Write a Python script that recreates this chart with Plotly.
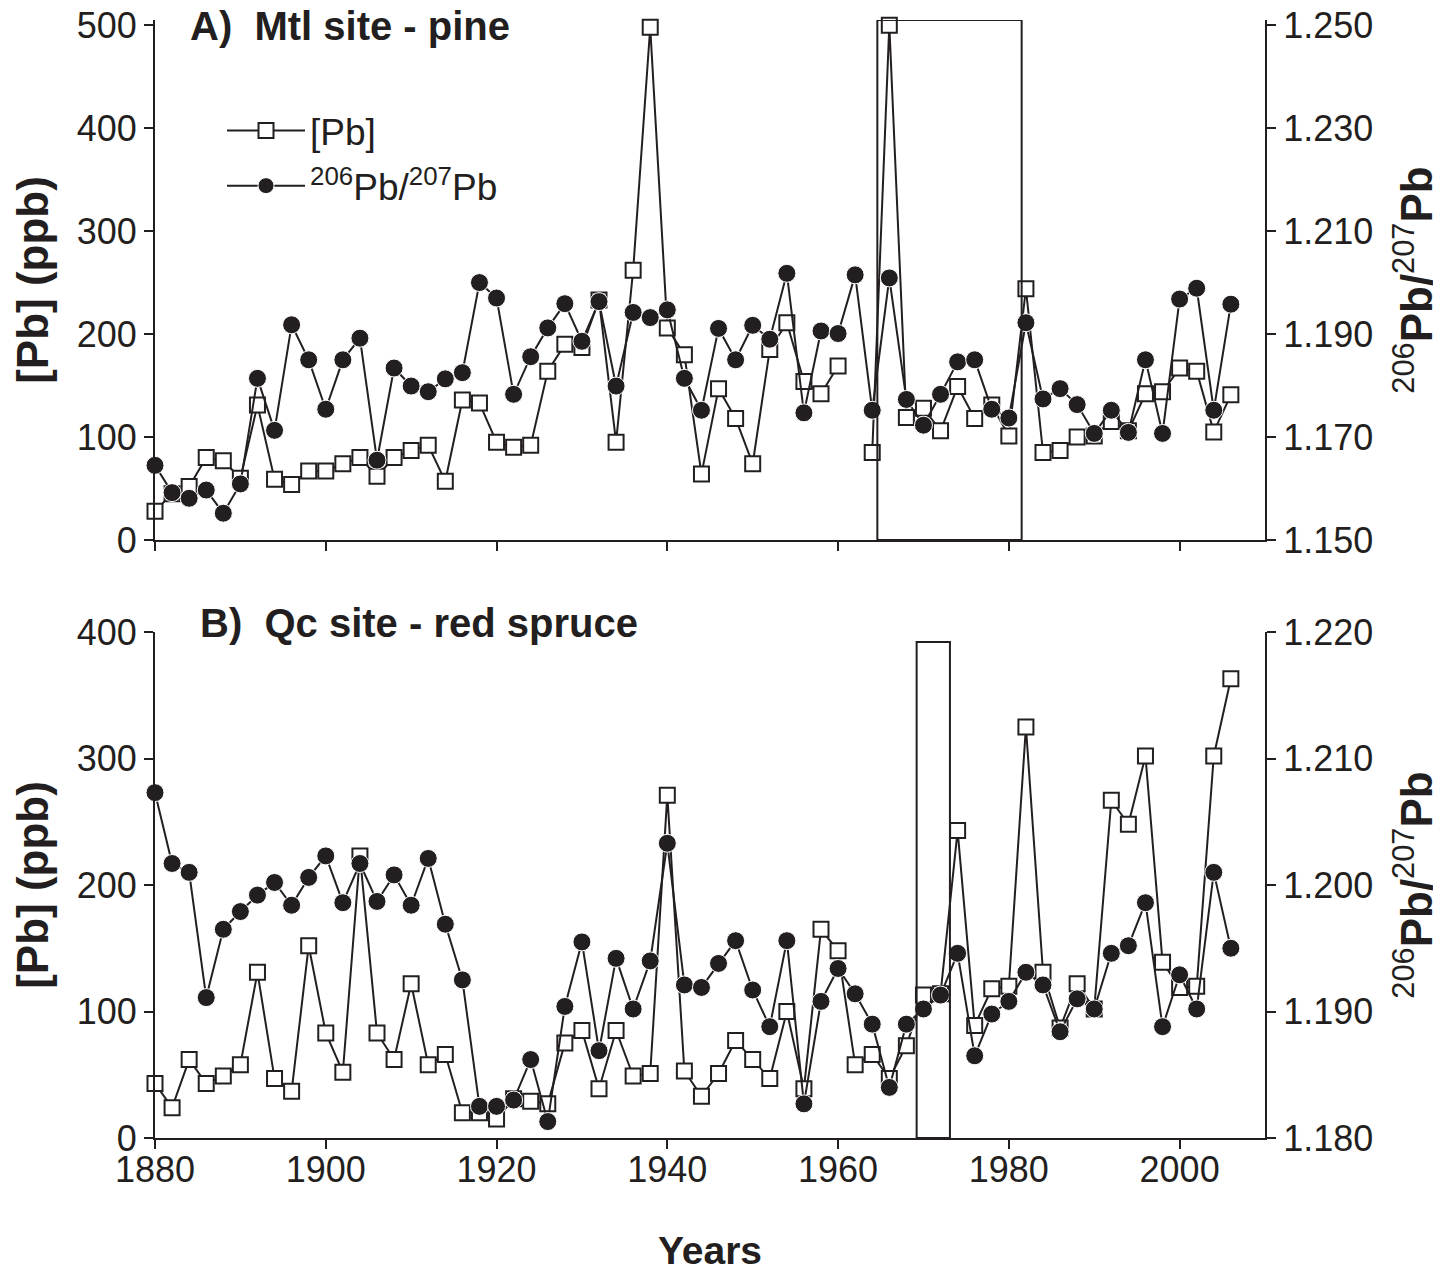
import plotly.graph_objects as go

# sampling years (both sites, every 2 years)
years = list(range(1880, 2007, 2))

# A) Mtl site - pine
pb_mtl = [28, 45, 52, 80, 77, 60, 131, 59, 54, 67, 67, 74, 80, 62, 80, 87, 92, 57, 136, 133,
          95, 90, 92, 164, 190, 187, 233, 95, 262, 498, 206, 180, 64, 147, 118, 74, 185, 211, 154, 142,
          169, None, 85, 500, 119, 128, 106, 149, 118, 131, 101, 244, 85, 87, 100, 101, 115, 106, 142, 144,
          167, 164, 105, 141]
ratio_mtl = [1.1645, 1.1592, 1.1581, 1.1597, 1.1552, 1.1609, 1.1814, 1.1713, 1.1918, 1.1850,
             1.1754, 1.1850, 1.1892, 1.1655, 1.1834, 1.1799, 1.1788, 1.1813, 1.1825, 1.2000,
             1.1970, 1.1783, 1.1856, 1.1912, 1.1959, 1.1886, 1.1963, 1.1799, 1.1942, 1.1932,
             1.1947, 1.1814, 1.1752, 1.1911, 1.1850, 1.1917, 1.1890, 1.2018, 1.1747, 1.1906,
             1.1901, 1.2015, 1.1752, 1.2009, 1.1773, 1.1723, 1.1783, 1.1846, 1.1850, 1.1754,
             1.1737, 1.1922, 1.1774, 1.1794, 1.1763, 1.1707, 1.1752, 1.1709, 1.1850, 1.1707,
             1.1968, 1.1989, 1.1752, 1.1958]

# B) Qc site - red spruce
pb_qc = [43, 24, 62, 43, 49, 58, 131, 47, 37, 152, 83, 52, 223, 83, 62, 122, 58, 66, 20, 20,
         15, 31, 29, 27, 75, 85, 39, 85, 49, 51, 271, 53, 33, 51, 77, 62, 47, 100, 39, 165,
         148, 58, 66, 47, 73, 113, 114, 243, 89, 118, 120, 325, 131, 87, 122, 102, 267, 248, 302, 139,
         119, 120, 302, 363]
ratio_qc = [1.2073, 1.2017, 1.2010, 1.1911, 1.1965, 1.1979, 1.1992, 1.2002, 1.1984, 1.2006,
            1.2023, 1.1986, 1.2017, 1.1987, 1.2008, 1.1984, 1.2021, 1.1969, 1.1925, 1.1825,
            1.1825, 1.1830, 1.1862, 1.1813, 1.1904, 1.1955, 1.1869, 1.1942, 1.1902, 1.1940,
            1.2033, 1.1921, 1.1919, 1.1938, 1.1956, 1.1917, 1.1888, 1.1956, 1.1827, 1.1908,
            1.1934, 1.1914, 1.1890, 1.1840, 1.1890, 1.1902, 1.1913, 1.1946, 1.1865, 1.1898,
            1.1908, 1.1931, 1.1921, 1.1884, 1.1910, 1.1902, 1.1946, 1.1952, 1.1986, 1.1888,
            1.1929, 1.1902, 1.2010, 1.1950]

# highlighted periods (start year, end year, top in ppb)
box_mtl = (1964.6, 1981.5, 505)
box_qc = (1969.2, 1973.1, 392)

ink = '#231f20'
font = 'Liberation Sans, Arial, sans-serif'

# page has an 8px body margin, so the figure is a bit smaller than the window
off = 8
W, H = 1441 - off, 1272 - off
ml, mr, mt, mb = 155 - off, 176, 20 - off, 134
pw = W - ml - mr
ph = H - mt - mb


def fy(page_y):
    return (H - mb - (page_y - off)) / ph


def fx(page_x):
    return (page_x - off - ml) / pw


dom_a = [fy(540), 1]
dom_b = [0, fy(632)]


def pb_trace(y, xa, ya, show):
    return go.Scatter(x=years, y=y, xaxis=xa, yaxis=ya, name='[Pb]', showlegend=show,
                      legendgroup='pb', mode='lines+markers', cliponaxis=False,
                      connectgaps=False, line=dict(color=ink, width=2),
                      marker=dict(symbol='square', size=15, color='white',
                                  line=dict(color=ink, width=2)))


def ratio_trace(y, xa, ya, show):
    return go.Scatter(x=years, y=y, xaxis=xa, yaxis=ya,
                      name='<sup>206</sup>Pb/<sup>207</sup>Pb', showlegend=show,
                      legendgroup='ratio', mode='lines+markers', cliponaxis=False,
                      line=dict(color=ink, width=2),
                      marker=dict(symbol='circle', size=18, color=ink,
                                  line=dict(color='white', width=1)))


fig = go.Figure()
fig.add_trace(pb_trace(pb_mtl, 'x', 'y', True))
fig.add_trace(ratio_trace(ratio_mtl, 'x', 'y2', True))
fig.add_trace(pb_trace(pb_qc, 'x2', 'y3', False))
fig.add_trace(ratio_trace(ratio_qc, 'x2', 'y4', False))

axis_common = dict(showline=True, linecolor=ink, linewidth=2, ticks='outside', ticklen=9,
                   tickwidth=2, tickcolor=ink, showgrid=False, zeroline=False,
                   automargin=False, ticklabeloverflow='allow',
                   tickfont=dict(size=36, color=ink, family=font))
title_font = dict(size=44, color=ink, family=font)
ratio_title = '<sup>206</sup><b>Pb/</b><sup>207</sup><b>Pb</b>'

fig.update_layout(
    width=W, height=H,
    margin=dict(l=ml, r=mr, t=mt, b=mb),
    plot_bgcolor='white', paper_bgcolor='white',
    font=dict(family=font, color=ink),
    xaxis=dict(axis_common, domain=[0, 1], anchor='y', range=[1880, 2010],
               tickvals=list(range(1880, 2001, 20)), showticklabels=False),
    yaxis=dict(axis_common, domain=dom_a, anchor='x', range=[0, 505],
               tickvals=[0, 100, 200, 300, 400, 500],
               title=dict(text='<b>[Pb] (ppb)</b>', font=title_font, standoff=40)),
    yaxis2=dict(axis_common, overlaying='y', side='right', anchor='x',
                range=[1.150, 1.150 + 0.1 * 505 / 500],
                tickvals=[1.15, 1.17, 1.19, 1.21, 1.23, 1.25], tickformat='.3f',
                title=dict(text=ratio_title, font=title_font, standoff=32)),
    xaxis2=dict(axis_common, domain=[0, 1], anchor='y3', range=[1880, 2010],
                tickvals=list(range(1880, 2001, 20)), ticklabelstandoff=-10,
                title=dict(text='<b>Years</b>', font=dict(size=39, color=ink, family=font),
                           standoff=48)),
    yaxis3=dict(axis_common, domain=dom_b, anchor='x2', range=[0, 400],
                tickvals=[0, 100, 200, 300, 400],
                title=dict(text='<b>[Pb] (ppb)</b>', font=title_font, standoff=40)),
    yaxis4=dict(axis_common, overlaying='y3', side='right', anchor='x2',
                range=[1.180, 1.220],
                tickvals=[1.18, 1.19, 1.20, 1.21, 1.22], tickformat='.3f',
                title=dict(text=ratio_title, font=title_font, standoff=32)),
    legend=dict(x=fx(222), y=fy(100), xanchor='left', yanchor='top',
                bgcolor='rgba(0,0,0,0)', tracegroupgap=4, itemwidth=78,
                font=dict(size=37, color=ink, family=font)),
)

for (x0, x1, top), xa, ya in [(box_mtl, 'x', 'y'), (box_qc, 'x2', 'y3')]:
    fig.add_shape(type='rect', xref=xa, yref=ya, x0=x0, x1=x1, y0=0, y1=top,
                  line=dict(color=ink, width=2), fillcolor='rgba(0,0,0,0)', layer='above')

fig.add_annotation(text='<b>A)  Mtl site - pine</b>', xref='paper', yref='paper',
                   x=fx(188), y=fy(26), xanchor='left', yanchor='middle', showarrow=False,
                   font=dict(size=40, color=ink, family=font))
fig.add_annotation(text='<b>B)  Qc site - red spruce</b>', xref='paper', yref='paper',
                   x=fx(198), y=fy(623), xanchor='left', yanchor='middle', showarrow=False,
                   font=dict(size=40, color=ink, family=font))

fig.write_html('out.html')
